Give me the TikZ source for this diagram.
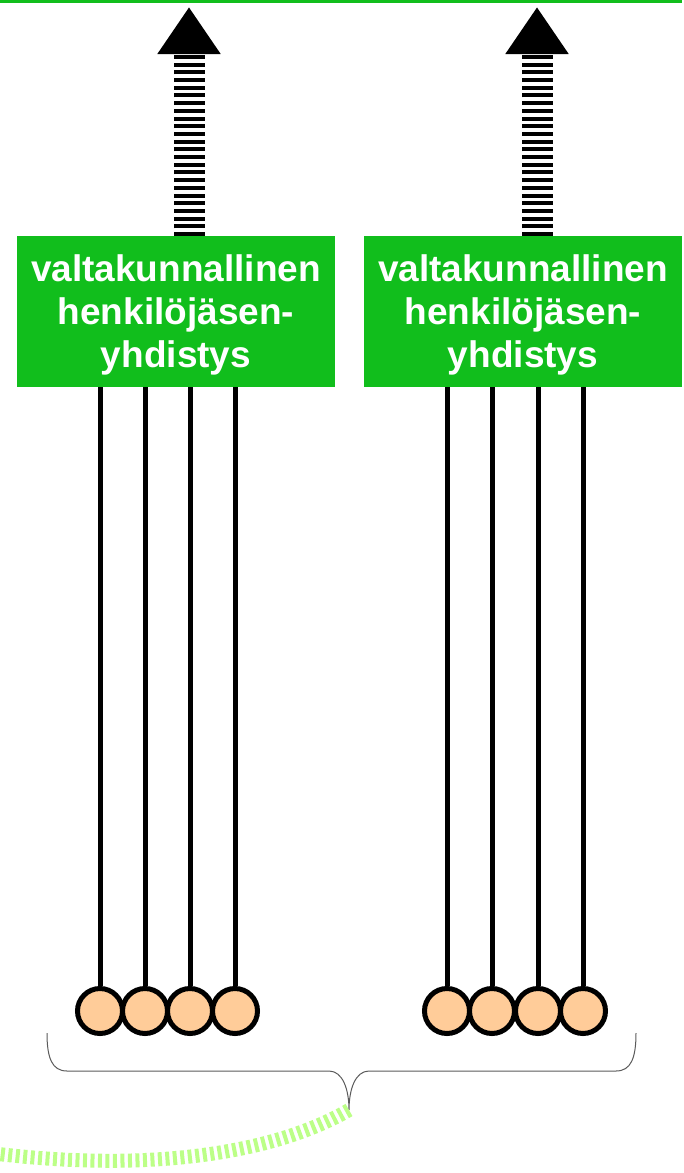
\documentclass[tikz,border=0pt]{standalone}
\usepackage{fontspec}
\setmainfont{Liberation Sans}
\usetikzlibrary{arrows.meta}
\definecolor{boxgreen}{RGB}{17,190,28}
\definecolor{peach}{RGB}{255,204,153}
\definecolor{lightgreen}{RGB}{188,255,135}
\definecolor{bracegray}{RGB}{90,90,90}
\begin{document}
\begin{tikzpicture}[x=1pt,y=-1pt,
 box/.style={fill=boxgreen,minimum width=318pt,minimum height=151pt,inner sep=0pt},
 boxtext/.style={text=white,font=\bfseries\fontsize{37}{43}\selectfont,inner sep=0pt,align=center},
 ball/.style={circle,draw=black,line width=5pt,fill=peach,minimum size=45pt,inner sep=0pt},
 rod/.style={line width=5pt},
 bigarrow/.style={line width=31pt,dash pattern=on 4pt off 3.7pt,-{Triangle[width=60pt,length=47pt]}},
 bracestyle/.style={draw=bracegray,line width=1pt},
 greendash/.style={draw=lightgreen,line width=14pt,dash pattern=on 4pt off 3.5pt},
 topline/.style={draw=boxgreen,line width=3pt}
]
\useasboundingbox (0,0) rectangle (683,1173);
% top line
\coordinate (tl) at (0,1);
\coordinate (tr) at (682,1);
\draw[topline] (tl) -- (tr);
% boxes
\node[box] (boxL) at (176,311.5) {};
\node[boxtext] (tL) at (176,315) {valtakunnallinen\\henkilöjäsen-\\yhdistys};
\node[box] (boxR) at (523,311.5) {};
\node[boxtext] (tR) at (523,315) {valtakunnallinen\\henkilöjäsen-\\yhdistys};
% arrows
\coordinate (aLb) at (189,236);
\coordinate (aLt) at (189,7);
\coordinate (aRb) at (537,236);
\coordinate (aRt) at (537,7);
\draw[bigarrow] (aLb) -- (aLt);
\draw[bigarrow] (aRb) -- (aRt);
% balls
\node[ball] (b1) at (100,1011) {};
\node[ball] (b2) at (145,1011) {};
\node[ball] (b3) at (190,1011) {};
\node[ball] (b4) at (235,1011) {};
\node[ball] (b5) at (447,1011) {};
\node[ball] (b6) at (492,1011) {};
\node[ball] (b7) at (538,1011) {};
\node[ball] (b8) at (583,1011) {};
\foreach \b in {b1,b2,b3,b4}{
  \draw[rod] (\b.north) -- (\b.north |- boxL.south);
}
\foreach \b in {b5,b6,b7,b8}{
  \draw[rod] (\b.north) -- (\b.north |- boxR.south);
}
% brace
\coordinate (bl) at (47,1033);
\coordinate (br) at (636,1033);
\coordinate (tip) at (349,1110);
\draw[bracestyle] (bl) .. controls (47,1058) and (52,1071) .. (67,1071) -- (329,1071) .. controls (343,1071) and (349,1090) .. (tip) .. controls (349,1090) and (355,1071) .. (369,1071) -- (616,1071) .. controls (631,1071) and (636,1058) .. (br);
% green dashed curve
\coordinate (gend) at (-10,1153);
\draw[greendash] (tip) .. controls (280,1150) and (160,1174) .. (gend);
\end{tikzpicture}
\end{document}
